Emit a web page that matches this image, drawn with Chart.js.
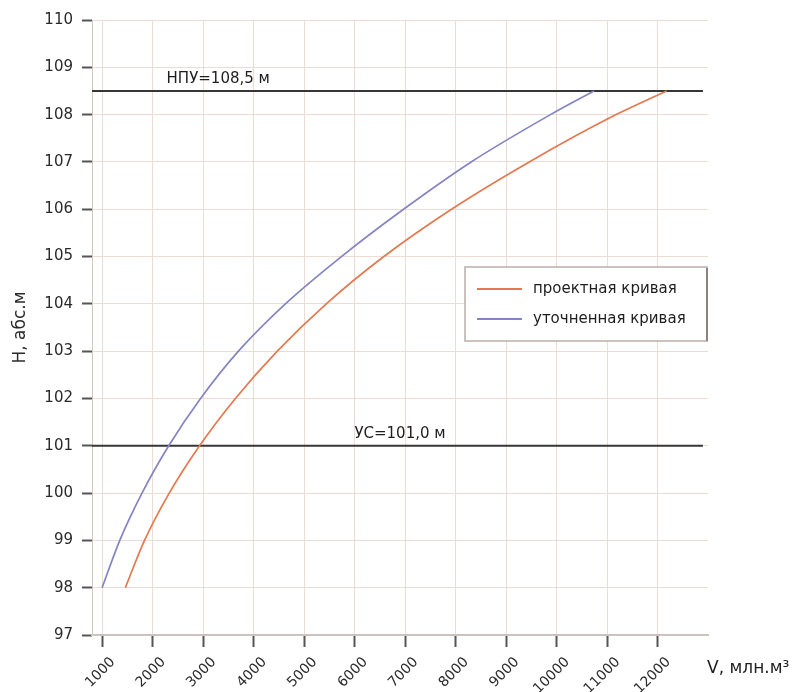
<!DOCTYPE html>
<html>
<head>
<meta charset="utf-8">
<script src="https://cdn.jsdelivr.net/npm/chart.js@4/dist/chart.umd.min.js"></script>
<style>
  body { margin: 0; background: #fff; }
</style>
</head>
<body>
<canvas id="chart" width="796" height="692"></canvas>
<script>
// уровни воды, м абс.
const heights = [98, 99, 100, 101, 102, 103, 104, 105, 106, 107, 108, 108.5];
// объём по проектной кривой, млн.м3
const volumeDesign = [1460, 1840, 2330, 2930, 3640, 4470, 5440, 6580, 7920, 9460, 11180, 12180];
// объём по уточненной кривой, млн.м3
const volumeRefined = [1000, 1350, 1790, 2320, 2950, 3700, 4630, 5740, 6970, 8310, 9880, 10740];

const xTicks = [1000, 2000, 3000, 4000, 5000, 6000, 7000, 8000, 9000, 10000, 11000, 12000];
const yTicks = [97, 98, 99, 100, 101, 102, 103, 104, 105, 106, 107, 108, 109, 110];

// характерные уровни
const levelValues = [108.5, 101.0];
const levelNames = ['НПУ=108,5 м', 'УС=101,0 м'];
const levelSpan = [800, 12900];

const seriesNames = ['проектная кривая', 'уточненная кривая'];
const seriesColors = ['#e2794f', '#8484c4'];

const labelAt = [3300, 6900];   // где подписать уровни (по оси V)
const FONT = '"DejaVu Sans", sans-serif';

const curve = (vals) => heights.map((h, i) => ({ x: vals[i], y: h }));

const datasets = [
  { label: seriesNames[0], data: curve(volumeDesign), borderColor: seriesColors[0], borderWidth: 1.7,
    pointRadius: 0, cubicInterpolationMode: 'monotone' },
  { label: seriesNames[1], data: curve(volumeRefined), borderColor: seriesColors[1], borderWidth: 1.7,
    pointRadius: 0, cubicInterpolationMode: 'monotone' }
];
levelValues.forEach((h, i) => {
  datasets.push({
    label: levelNames[i],
    data: levelSpan.map(v => ({ x: v, y: h })),
    borderColor: '#363636', borderWidth: 2, pointRadius: 0, isLevel: true
  });
});

const overlay = {
  id: 'overlay',
  afterDatasetsDraw(chart) {
    const { ctx, chartArea: a, scales: { x, y } } = chart;
    ctx.save();

    // подписи уровней
    ctx.font = '15px ' + FONT;
    ctx.fillStyle = '#1e1e1e';
    ctx.textAlign = 'center';
    ctx.textBaseline = 'middle';
    levelNames.forEach((t, i) => {
      ctx.fillText(t, x.getPixelForValue(labelAt[i]), y.getPixelForValue(levelValues[i]) - 12);
    });

    // легенда
    const lx = a.right - 243, ly = 267, lw = 242, lh = 74;
    ctx.fillStyle = '#fff';
    ctx.fillRect(lx, ly, lw, lh);
    ctx.strokeStyle = '#b8aeaa';
    ctx.lineWidth = 1.5;
    ctx.strokeRect(lx, ly, lw, lh);
    ctx.strokeStyle = '#8a8280';
    ctx.lineWidth = 2;
    ctx.beginPath();
    ctx.moveTo(lx + lw, ly + 1);
    ctx.lineTo(lx + lw, ly + lh);
    ctx.stroke();

    ctx.textAlign = 'left';
    ctx.font = '15px ' + FONT;
    chart.data.datasets.filter(d => !d.isLevel).forEach((d, i) => {
      const yy = ly + 22 + i * 30;
      ctx.strokeStyle = d.borderColor;
      ctx.lineWidth = 1.8;
      ctx.beginPath();
      ctx.moveTo(lx + 12, yy);
      ctx.lineTo(lx + 57, yy);
      ctx.stroke();
      ctx.fillStyle = '#1e1e1e';
      ctx.fillText(d.label, lx + 68, yy);
    });

    // подпись оси V
    ctx.font = '17px ' + FONT;
    ctx.fillStyle = '#1e1e1e';
    ctx.fillText('V, млн.м³', a.right - 1, 669);
    ctx.restore();
  }
};

new Chart(document.getElementById('chart'), {
  type: 'line',
  data: { datasets },
  options: {
    responsive: false,
    animation: false,
    layout: { padding: { top: 20, right: 88, left: 0, bottom: 0 } },
    plugins: { legend: { display: false }, tooltip: { enabled: false } },
    scales: {
      x: {
        type: 'linear',
        min: 800,
        max: 13000,
        afterBuildTicks: (s) => { s.ticks = xTicks.map(v => ({ value: v })); },
        afterFit: (s) => { s.height = 57; },
        grid: { color: '#ecdcd4', tickColor: '#555', tickWidth: 2, tickLength: 12 },
        border: { color: '#cbc3bf', width: 2 },
        ticks: {
          minRotation: 45, maxRotation: 45, labelOffset: 11, padding: 7,
          color: '#2a2a2a', font: { family: FONT, size: 14 },
          callback: (v) => String(v)
        }
      },
      y: {
        min: 97,
        max: 110,
        afterBuildTicks: (s) => { s.ticks = yTicks.map(v => ({ value: v })); },
        afterFit: (s) => { s.width = 92; },
        grid: { color: '#ecdcd4', tickColor: '#555', tickWidth: 2, tickLength: 10 },
        border: { color: '#d4c8c2', width: 1 },
        ticks: { padding: 9, color: '#2a2a2a', font: { family: FONT, size: 15 } },
        title: {
          display: true, text: 'Н, абс.м', color: '#2a2a2a',
          font: { family: FONT, size: 17 }, padding: { top: 10, bottom: 0 }
        }
      }
    }
  },
  plugins: [overlay]
});
</script>
</body>
</html>
